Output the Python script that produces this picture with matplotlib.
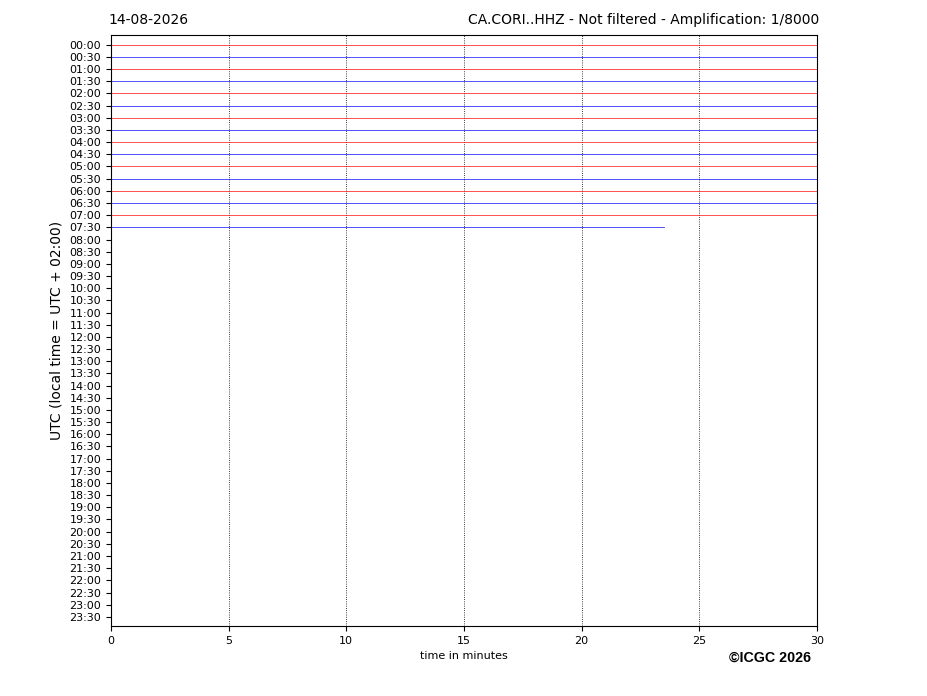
import matplotlib
matplotlib.use("Agg")
import matplotlib.pyplot as plt

date_str = "14-08-2026"
station = "CA.CORI..HHZ - Not filtered - Amplification: 1/8000"

# una fila per cada mitja hora
row_labels = ["%02d:%02d" % (h, m) for h in range(24) for m in (0, 30)]
# minuts registrats a cada fila (les altres encara buides)
trace_end = [30, 30, 30, 30, 30, 30, 30, 30, 30, 30, 30, 30, 30, 30, 30, 23.5]
trace_colors = ["red", "blue"]

fig = plt.figure(figsize=(9.27, 6.96), dpi=100)
ax = fig.add_axes([0.1197, 0.1006, 0.7616, 0.8491])

for i, end in enumerate(trace_end):
    ax.plot([0, end], [i, i], color=trace_colors[i % 2], lw=0.6, alpha=0.8)

ax.set_xlim(0, 30)
ax.set_ylim(len(row_labels) - 0.25, -0.8)
ax.set_yticks(range(len(row_labels)))
ax.set_yticklabels(row_labels, fontsize=8)
ax.set_xticks([0, 5, 10, 15, 20, 25, 30])
ax.tick_params(axis='x', labelsize=8)
ax.grid(axis='x', color='black', linestyle=':', linewidth=0.6)

ax.set_xlabel('time in minutes', fontsize=8)
ax.set_ylabel('UTC (local time = UTC + 02:00)', fontsize=10)

# titols fora de l'eix
fig.text(0.1165, 0.9713, date_str, ha='left', va='center', fontsize=10)
fig.text(0.8835, 0.9713, station, ha='right', va='center', fontsize=10)

fig.text(0.875, 0.0546, '\u00a9ICGC 2026', ha='right', va='center',
         fontsize=10.3, fontweight='bold', family=['Liberation Sans', 'DejaVu Sans'])

fig.savefig('out.png', dpi=100)
